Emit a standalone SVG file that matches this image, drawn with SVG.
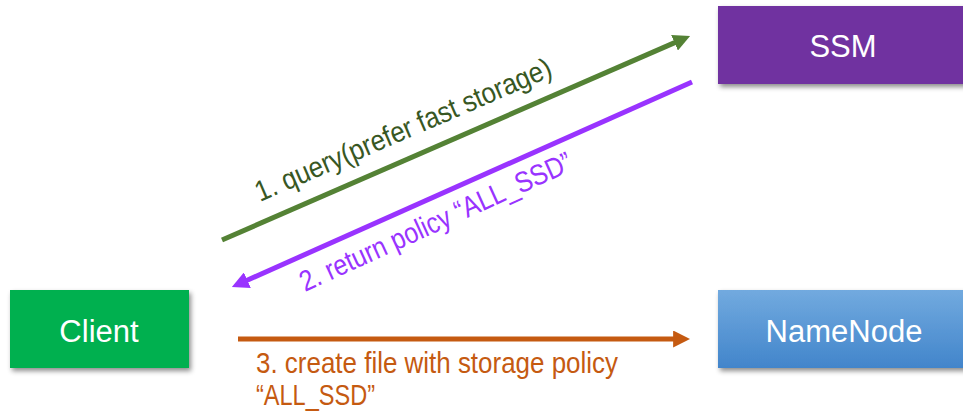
<svg xmlns="http://www.w3.org/2000/svg" width="963" height="412" viewBox="0 0 963 412">
  <defs>
    <style>
      .node-label { font-family: "Liberation Sans", Arial, sans-serif; font-size: 31px; fill: #ffffff; text-anchor: middle; }
      .edge-label { font-family: "Liberation Sans", Arial, sans-serif; font-size: 29px; }
      .edge { fill: none; stroke-width: 5; }
    </style>
    <linearGradient id="blueFill" x1="0" y1="0" x2="0" y2="1">
      <stop offset="0" stop-color="#72aadf"/>
      <stop offset="1" stop-color="#4285cb"/>
    </linearGradient>
    <filter id="shadow" x="-10%" y="-20%" width="130%" height="160%">
      <feDropShadow dx="2" dy="3" stdDeviation="2.5" flood-color="#000000" flood-opacity="0.45"/>
    </filter>
    <marker id="headGreen" viewBox="0 0 10 10" refX="0.5" refY="5" markerWidth="3.4" markerHeight="3.4" orient="auto">
      <path d="M0,0 L10,5 L0,10 z" fill="#548235"/>
    </marker>
    <marker id="headPurple" viewBox="0 0 10 10" refX="0.5" refY="5" markerWidth="3.4" markerHeight="3.4" orient="auto">
      <path d="M0,0 L10,5 L0,10 z" fill="#9933ff"/>
    </marker>
    <marker id="headOrange" viewBox="0 0 10 10" refX="0.5" refY="5" markerWidth="3.4" markerHeight="3.4" orient="auto">
      <path d="M0,0 L10,5 L0,10 z" fill="#c55a11"/>
    </marker>
  </defs>

  <rect width="963" height="412" fill="#ffffff"/>

  <g id="ssm">
    <rect x="718" y="6" width="250" height="78" fill="#7030a0" filter="url(#shadow)"/>
    <text class="node-label" x="843" y="57">SSM</text>
  </g>

  <g id="client">
    <rect x="10" y="290" width="179" height="78" fill="#00b050" filter="url(#shadow)"/>
    <text class="node-label" x="99" y="342">Client</text>
  </g>

  <g id="namenode">
    <rect x="718" y="290" width="250" height="78" fill="url(#blueFill)" filter="url(#shadow)"/>
    <text class="node-label" x="844" y="342">NameNode</text>
  </g>

  <g id="connectors">
    <line class="edge" x1="222" y1="240" x2="675.3" y2="42.4" stroke="#548235" marker-end="url(#headGreen)"/>
    <line class="edge" x1="692" y1="82" x2="246.6" y2="280.5" stroke="#9933ff" marker-end="url(#headPurple)"/>
    <line class="edge" x1="238" y1="339" x2="674" y2="339" stroke="#c55a11" marker-end="url(#headOrange)"/>

    <text class="edge-label" fill="#385723" transform="translate(260,202) rotate(-23.3)" textLength="320" lengthAdjust="spacingAndGlyphs">1. query(prefer fast storage)</text>
    <text class="edge-label" fill="#9933ff" transform="translate(305,292) rotate(-24.5)" textLength="296" lengthAdjust="spacingAndGlyphs">2. return policy “ALL_SSD”</text>
    <text class="edge-label" fill="#c55a11" x="256" y="373" textLength="362" lengthAdjust="spacingAndGlyphs">3. create file with storage policy</text>
    <text class="edge-label" fill="#c55a11" x="256" y="405" textLength="119" lengthAdjust="spacingAndGlyphs">“ALL_SSD”</text>
  </g>
</svg>
